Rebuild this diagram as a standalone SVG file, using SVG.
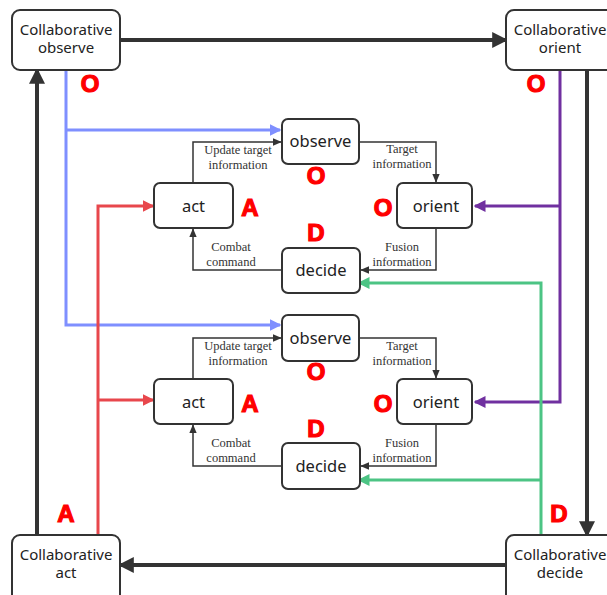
<svg xmlns="http://www.w3.org/2000/svg" width="607" height="595" viewBox="0 0 607 595">
<style>
.box{fill:#fff;stroke:#333;stroke-width:2}
.big{font-family:"Noto Sans","Open Sans",sans-serif;font-size:15px;fill:#222;text-anchor:middle}
.node{font-family:"Noto Sans","Open Sans",sans-serif;font-size:16.5px;fill:#222;text-anchor:middle}
.lbl{font-family:"Liberation Serif","Times New Roman",serif;font-size:12.5px;fill:#333;text-anchor:middle}
.ltr{font-family:"Liberation Sans",Arial,sans-serif;font-weight:bold;font-size:24px;fill:#f00;stroke:#f00;stroke-width:1.2;text-anchor:middle}
.thick{fill:none;stroke:#333;stroke-width:4}
.thin{fill:none;stroke:#333;stroke-width:1.5}
.blue{fill:none;stroke:#7f8fff;stroke-width:3}
.purple{fill:none;stroke:#7030a0;stroke-width:3}
.red{fill:none;stroke:#e8474c;stroke-width:3}
.green{fill:none;stroke:#4cc484;stroke-width:3}
</style>
<defs>
<marker id="mk" markerWidth="4" markerHeight="4" refX="3.2" refY="2" orient="auto" markerUnits="strokeWidth"><path d="M0,0 L4,2 L0,4 z" fill="#333"/></marker>
<marker id="mt" markerWidth="6" markerHeight="6" refX="5.5" refY="3" orient="auto" markerUnits="strokeWidth"><path d="M0,0.5 L6,3 L0,5.5 z" fill="#333"/></marker>
<marker id="mb" markerWidth="4" markerHeight="4" refX="3.5" refY="2" orient="auto" markerUnits="strokeWidth"><path d="M0,0 L4,2 L0,4 z" fill="#7f8fff"/></marker>
<marker id="mp" markerWidth="4" markerHeight="4" refX="3.5" refY="2" orient="auto" markerUnits="strokeWidth"><path d="M0,0 L4,2 L0,4 z" fill="#7030a0"/></marker>
<marker id="mr" markerWidth="4" markerHeight="4" refX="3.5" refY="2" orient="auto" markerUnits="strokeWidth"><path d="M0,0 L4,2 L0,4 z" fill="#e8474c"/></marker>
<marker id="mg" markerWidth="4" markerHeight="4" refX="3.5" refY="2" orient="auto" markerUnits="strokeWidth"><path d="M0,0 L4,2 L0,4 z" fill="#4cc484"/></marker>
</defs>
<g id="connectors">
<path class="thick" d="M120,40 L505,40" marker-end="url(#mk)"/>
<path class="thick" d="M587,70 L587,534" marker-end="url(#mk)"/>
<path class="thick" d="M506,565 L121,565" marker-end="url(#mk)"/>
<path class="thick" d="M37,535 L37,71" marker-end="url(#mk)"/>
<path class="blue" d="M66,70 L66,325 L280,325" marker-end="url(#mb)"/>
<path class="blue" d="M66,130 L280,130" marker-end="url(#mb)"/>
<path class="purple" d="M560,70 L560,402 L475,402" marker-end="url(#mp)"/>
<path class="purple" d="M560,206 L475,206" marker-end="url(#mp)"/>
<path class="red" d="M98,535 L98,206 L153,206" marker-end="url(#mr)"/>
<path class="red" d="M98,400 L153,400" marker-end="url(#mr)"/>
<path class="green" d="M541,535 L541,283 L359,283" marker-end="url(#mg)"/>
<path class="green" d="M541,480 L359,480" marker-end="url(#mg)"/>
<path class="thin" d="M193,183 L193,142 L281,142" marker-end="url(#mt)"/>
<path class="thin" d="M359,142 L436,142 L436,182" marker-end="url(#mt)"/>
<path class="thin" d="M436,228 L436,270 L361,270" marker-end="url(#mt)"/>
<path class="thin" d="M282,270 L193,270 L193,229" marker-end="url(#mt)"/>
<path class="thin" d="M193,379 L193,338 L281,338" marker-end="url(#mt)"/>
<path class="thin" d="M359,338 L436,338 L436,378" marker-end="url(#mt)"/>
<path class="thin" d="M436,424 L436,466 L361,466" marker-end="url(#mt)"/>
<path class="thin" d="M282,466 L193,466 L193,425" marker-end="url(#mt)"/>
</g>
<g id="labels">
<text class="lbl" x="238" y="154">Update target</text>
<text class="lbl" x="238" y="169">information</text>
<text class="lbl" x="402" y="153">Target</text>
<text class="lbl" x="402" y="168">information</text>
<text class="lbl" x="231" y="251">Combat</text>
<text class="lbl" x="231" y="266">command</text>
<text class="lbl" x="402" y="251">Fusion</text>
<text class="lbl" x="402" y="266">information</text>
<text class="lbl" x="238" y="350">Update target</text>
<text class="lbl" x="238" y="365">information</text>
<text class="lbl" x="402" y="350">Target</text>
<text class="lbl" x="402" y="365">information</text>
<text class="lbl" x="231" y="447">Combat</text>
<text class="lbl" x="231" y="462">command</text>
<text class="lbl" x="402" y="447">Fusion</text>
<text class="lbl" x="402" y="462">information</text>
<text class="ltr" x="90" y="92">O</text>
<text class="ltr" x="536" y="92">O</text>
<text class="ltr" x="66" y="522">A</text>
<text class="ltr" x="559" y="522">D</text>
<text class="ltr" x="316" y="184">O</text>
<text class="ltr" x="250" y="216">A</text>
<text class="ltr" x="383" y="216">O</text>
<text class="ltr" x="316" y="241">D</text>
<text class="ltr" x="316" y="380">O</text>
<text class="ltr" x="250" y="412">A</text>
<text class="ltr" x="383" y="412">O</text>
<text class="ltr" x="316" y="437">D</text>
</g>
<g id="collab-observe"><rect class="box" x="12" y="10" width="108" height="60" rx="8"/><text class="big" x="66" y="35">Collaborative</text><text class="big" x="66" y="53">observe</text></g>
<g id="collab-orient"><rect class="box" x="506" y="10" width="110" height="60" rx="8"/><text class="big" x="560" y="35">Collaborative</text><text class="big" x="560" y="53">orient</text></g>
<g id="collab-act"><rect class="box" x="12" y="535" width="108" height="70" rx="8"/><text class="big" x="66" y="560">Collaborative</text><text class="big" x="66" y="578">act</text></g>
<g id="collab-decide"><rect class="box" x="506" y="535" width="110" height="70" rx="8"/><text class="big" x="560" y="560">Collaborative</text><text class="big" x="560" y="578">decide</text></g>
<g id="observe1"><rect class="box" x="282" y="119" width="77" height="45" rx="6"/><text class="node" x="320.5" y="147">observe</text></g>
<g id="act1"><rect class="box" x="154" y="183" width="79" height="45" rx="6"/><text class="node" x="193.5" y="212">act</text></g>
<g id="orient1"><rect class="box" x="397" y="183" width="75" height="45" rx="6"/><text class="node" x="436" y="212">orient</text></g>
<g id="decide1"><rect class="box" x="282" y="248" width="78" height="45" rx="6"/><text class="node" x="321" y="276">decide</text></g>
<g id="observe2"><rect class="box" x="282" y="315" width="77" height="46" rx="6"/><text class="node" x="320.5" y="344">observe</text></g>
<g id="act2"><rect class="box" x="154" y="379" width="79" height="45" rx="6"/><text class="node" x="193.5" y="408">act</text></g>
<g id="orient2"><rect class="box" x="397" y="379" width="75" height="45" rx="6"/><text class="node" x="436" y="408">orient</text></g>
<g id="decide2"><rect class="box" x="282" y="443" width="78" height="46" rx="6"/><text class="node" x="321" y="472">decide</text></g>
</svg>
